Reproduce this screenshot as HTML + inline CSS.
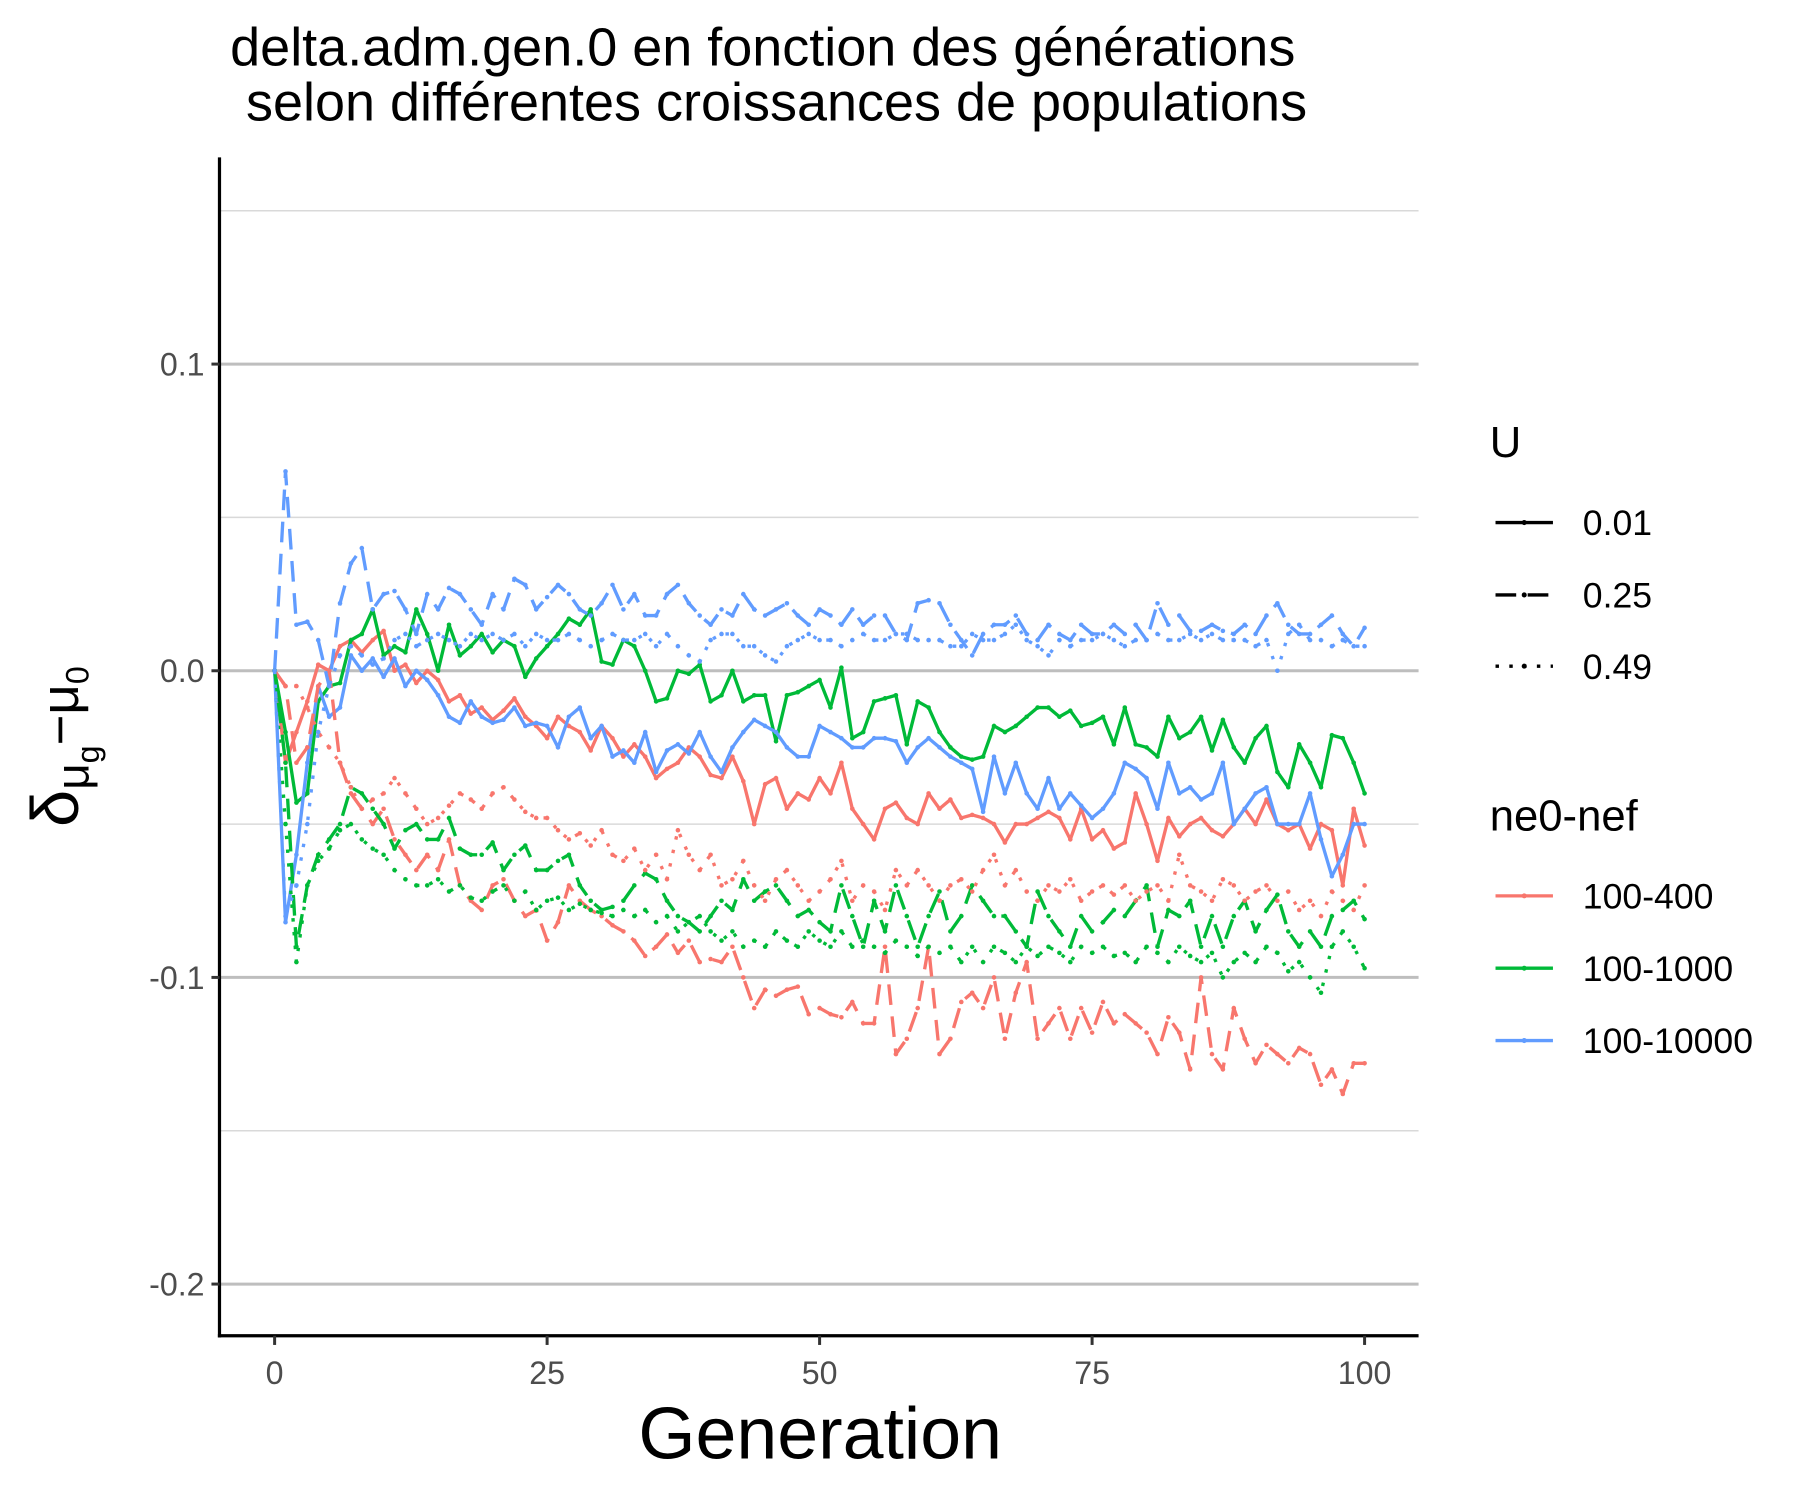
<!DOCTYPE html>
<html><head><meta charset="utf-8"><style>
html,body{margin:0;padding:0;background:#fff;}
svg{display:block;font-family:"Liberation Sans",sans-serif;}
</style></head><body>
<svg id="chart" width="1800" height="1500" viewBox="0 0 1567 1306" xmlns="http://www.w3.org/2000/svg">
<g font-size="47" text-anchor="middle" fill="#000">
<text x="664" y="57">delta.adm.gen.0 en fonction des générations</text>
<text x="676" y="105">selon différentes croissances de populations</text>
</g>
<g id="grid"></g>
<g id="series"></g>
<g id="axes"></g>
<text x="714" y="1270" font-size="64" text-anchor="middle">Generation</text>
<g transform="translate(68,650) rotate(-90)" text-anchor="middle">
<text x="0" y="0" font-size="58">δ<tspan font-size="40" dy="9">μ</tspan><tspan font-size="28" dy="9">g</tspan><tspan font-size="46" dy="-18">−μ</tspan><tspan font-size="28" dy="9">0</tspan></text>
</g>
<g id="legend" font-size="31"></g>
</svg>
<script>
const gens = Array.from({length:101},(_,i)=>i);
const xTicks = [0,25,50,75,100];
const yTicks = [0.1,0.0,-0.1,-0.2];
const yMinor = [0.15,0.05,-0.05,-0.15];
const groupNames = ["100-400","100-1000","100-10000"];
const uNames = ["0.01","0.25","0.49"];
const r1 = [0,-0.03,-0.02,-0.01,0.002,0.0,0.008,0.01,0.006,0.01,0.013,0.0,0.002,-0.004,0.0,-0.003,-0.01,-0.008,-0.014,-0.012,-0.016,-0.013,-0.009,-0.015,-0.018,-0.022,-0.015,-0.018,-0.02,-0.026,-0.018,-0.022,-0.028,-0.024,-0.028,-0.035,-0.032,-0.03,-0.025,-0.028,-0.034,-0.035,-0.028,-0.036,-0.05,-0.037,-0.035,-0.045,-0.04,-0.042,-0.035,-0.04,-0.03,-0.045,-0.05,-0.055,-0.045,-0.043,-0.048,-0.05,-0.04,-0.045,-0.042,-0.048,-0.047,-0.048,-0.05,-0.056,-0.05,-0.05,-0.048,-0.046,-0.048,-0.055,-0.045,-0.055,-0.052,-0.058,-0.056,-0.04,-0.05,-0.062,-0.048,-0.054,-0.05,-0.048,-0.052,-0.054,-0.05,-0.045,-0.05,-0.042,-0.05,-0.052,-0.05,-0.058,-0.05,-0.052,-0.07,-0.045,-0.057];
const g1 = [0,-0.02,-0.043,-0.04,-0.01,-0.005,-0.004,0.01,0.012,0.02,0.005,0.008,0.006,0.02,0.012,0.0,0.015,0.005,0.008,0.012,0.006,0.01,0.008,-0.002,0.004,0.008,0.012,0.017,0.015,0.02,0.003,0.002,0.01,0.008,0.0,-0.01,-0.009,0.0,-0.001,0.002,-0.01,-0.008,0.0,-0.01,-0.008,-0.008,-0.023,-0.008,-0.007,-0.005,-0.003,-0.012,0.001,-0.022,-0.02,-0.01,-0.009,-0.008,-0.024,-0.01,-0.012,-0.02,-0.025,-0.028,-0.029,-0.028,-0.018,-0.02,-0.018,-0.015,-0.012,-0.012,-0.015,-0.013,-0.018,-0.017,-0.015,-0.024,-0.012,-0.024,-0.025,-0.028,-0.015,-0.022,-0.02,-0.015,-0.026,-0.016,-0.025,-0.03,-0.022,-0.018,-0.033,-0.038,-0.024,-0.03,-0.038,-0.021,-0.022,-0.03,-0.04];
const b1 = [0,-0.082,-0.06,-0.03,-0.005,-0.015,-0.012,0.005,0.0,0.004,-0.002,0.004,-0.005,0.0,-0.003,-0.008,-0.015,-0.017,-0.01,-0.015,-0.017,-0.016,-0.012,-0.018,-0.017,-0.018,-0.025,-0.015,-0.012,-0.022,-0.018,-0.028,-0.026,-0.03,-0.02,-0.033,-0.026,-0.024,-0.027,-0.02,-0.028,-0.033,-0.025,-0.02,-0.016,-0.018,-0.02,-0.025,-0.028,-0.028,-0.018,-0.02,-0.022,-0.025,-0.025,-0.022,-0.022,-0.023,-0.03,-0.025,-0.022,-0.025,-0.028,-0.03,-0.032,-0.046,-0.028,-0.04,-0.03,-0.04,-0.045,-0.035,-0.045,-0.04,-0.044,-0.048,-0.045,-0.04,-0.03,-0.032,-0.035,-0.045,-0.03,-0.04,-0.038,-0.042,-0.04,-0.03,-0.05,-0.045,-0.04,-0.038,-0.05,-0.05,-0.05,-0.04,-0.055,-0.067,-0.06,-0.05,-0.05];
const r2 = [0,-0.005,-0.03,-0.025,-0.005,0.0,-0.03,-0.04,-0.045,-0.05,-0.045,-0.055,-0.06,-0.065,-0.06,-0.065,-0.055,-0.07,-0.075,-0.078,-0.07,-0.068,-0.075,-0.08,-0.078,-0.088,-0.082,-0.07,-0.075,-0.078,-0.08,-0.083,-0.085,-0.088,-0.093,-0.09,-0.086,-0.092,-0.088,-0.095,-0.094,-0.095,-0.09,-0.1,-0.11,-0.104,-0.106,-0.104,-0.103,-0.112,-0.11,-0.112,-0.113,-0.108,-0.115,-0.115,-0.09,-0.125,-0.12,-0.11,-0.09,-0.125,-0.12,-0.108,-0.105,-0.11,-0.1,-0.12,-0.105,-0.095,-0.12,-0.115,-0.11,-0.12,-0.11,-0.118,-0.108,-0.115,-0.112,-0.115,-0.118,-0.125,-0.113,-0.118,-0.13,-0.1,-0.125,-0.13,-0.11,-0.12,-0.128,-0.122,-0.125,-0.128,-0.123,-0.125,-0.135,-0.13,-0.138,-0.128,-0.128];
const g2 = [0,-0.03,-0.09,-0.07,-0.06,-0.055,-0.05,-0.038,-0.04,-0.045,-0.05,-0.058,-0.052,-0.05,-0.055,-0.055,-0.048,-0.058,-0.06,-0.06,-0.056,-0.065,-0.06,-0.057,-0.065,-0.065,-0.062,-0.06,-0.07,-0.075,-0.078,-0.077,-0.075,-0.07,-0.066,-0.068,-0.075,-0.08,-0.082,-0.085,-0.08,-0.075,-0.078,-0.068,-0.075,-0.072,-0.07,-0.075,-0.08,-0.078,-0.082,-0.085,-0.07,-0.08,-0.09,-0.075,-0.085,-0.07,-0.08,-0.09,-0.08,-0.072,-0.085,-0.08,-0.07,-0.075,-0.08,-0.08,-0.085,-0.09,-0.072,-0.08,-0.085,-0.09,-0.08,-0.085,-0.082,-0.078,-0.08,-0.075,-0.07,-0.09,-0.078,-0.08,-0.075,-0.09,-0.08,-0.09,-0.08,-0.075,-0.085,-0.078,-0.073,-0.085,-0.09,-0.085,-0.09,-0.08,-0.078,-0.075,-0.081];
const b2 = [0,0.065,0.015,0.016,0.01,-0.005,0.022,0.035,0.04,0.02,0.025,0.026,0.02,0.012,0.025,0.02,0.027,0.025,0.02,0.015,0.025,0.02,0.03,0.028,0.02,0.024,0.028,0.025,0.02,0.018,0.022,0.028,0.02,0.025,0.018,0.018,0.025,0.028,0.022,0.018,0.015,0.02,0.018,0.025,0.02,0.018,0.02,0.022,0.018,0.015,0.02,0.018,0.015,0.02,0.015,0.018,0.018,0.012,0.01,0.022,0.023,0.022,0.015,0.01,0.005,0.012,0.015,0.015,0.018,0.012,0.01,0.015,0.012,0.01,0.015,0.012,0.012,0.015,0.012,0.015,0.01,0.022,0.015,0.018,0.013,0.013,0.015,0.013,0.012,0.015,0.012,0.018,0.022,0.015,0.012,0.012,0.015,0.018,0.012,0.008,0.014];
const r3 = [0,-0.005,-0.005,-0.012,-0.02,-0.025,-0.03,-0.038,-0.045,-0.042,-0.04,-0.035,-0.04,-0.045,-0.05,-0.048,-0.044,-0.04,-0.042,-0.045,-0.04,-0.038,-0.042,-0.046,-0.048,-0.048,-0.052,-0.055,-0.053,-0.057,-0.052,-0.06,-0.062,-0.058,-0.065,-0.06,-0.068,-0.052,-0.06,-0.065,-0.06,-0.07,-0.068,-0.062,-0.07,-0.075,-0.068,-0.065,-0.07,-0.075,-0.072,-0.068,-0.062,-0.075,-0.07,-0.072,-0.078,-0.065,-0.07,-0.065,-0.07,-0.075,-0.07,-0.068,-0.072,-0.065,-0.06,-0.07,-0.065,-0.072,-0.075,-0.07,-0.072,-0.068,-0.075,-0.072,-0.07,-0.073,-0.07,-0.075,-0.072,-0.07,-0.075,-0.06,-0.07,-0.072,-0.075,-0.068,-0.07,-0.075,-0.072,-0.07,-0.075,-0.072,-0.078,-0.075,-0.08,-0.072,-0.075,-0.078,-0.07];
const g3 = [0,-0.05,-0.095,-0.07,-0.062,-0.058,-0.052,-0.05,-0.055,-0.058,-0.06,-0.065,-0.068,-0.07,-0.07,-0.068,-0.072,-0.07,-0.074,-0.075,-0.072,-0.07,-0.075,-0.072,-0.078,-0.075,-0.074,-0.078,-0.076,-0.078,-0.079,-0.08,-0.078,-0.08,-0.078,-0.082,-0.08,-0.085,-0.082,-0.08,-0.085,-0.088,-0.085,-0.09,-0.088,-0.09,-0.085,-0.088,-0.09,-0.085,-0.088,-0.09,-0.085,-0.09,-0.088,-0.09,-0.092,-0.088,-0.09,-0.093,-0.09,-0.092,-0.09,-0.095,-0.09,-0.095,-0.09,-0.092,-0.095,-0.09,-0.093,-0.09,-0.092,-0.095,-0.09,-0.092,-0.09,-0.093,-0.092,-0.095,-0.09,-0.092,-0.095,-0.09,-0.093,-0.095,-0.092,-0.1,-0.095,-0.092,-0.095,-0.09,-0.092,-0.098,-0.095,-0.1,-0.105,-0.09,-0.085,-0.09,-0.097];
const b3 = [0,-0.08,-0.07,-0.05,-0.02,-0.005,0.005,0.008,0.005,0.002,0.004,0.01,0.012,0.008,0.01,0.012,0.01,0.008,0.012,0.01,0.012,0.01,0.012,0.008,0.012,0.01,0.01,0.012,0.01,0.008,0.01,0.012,0.01,0.01,0.012,0.008,0.012,0.008,0.005,0.003,0.01,0.012,0.012,0.008,0.008,0.005,0.003,0.008,0.01,0.012,0.01,0.01,0.008,0.01,0.012,0.01,0.01,0.012,0.012,0.01,0.01,0.01,0.008,0.008,0.012,0.01,0.01,0.012,0.015,0.01,0.008,0.005,0.01,0.008,0.01,0.01,0.012,0.01,0.008,0.01,0.01,0.012,0.01,0.01,0.012,0.01,0.012,0.01,0.01,0.01,0.008,0.01,0.0,0.012,0.015,0.01,0.01,0.008,0.01,0.008,0.008];

const NS="http://www.w3.org/2000/svg";
const X0=191, X1=1235, Y0=137, Y1=1163;
const xs = v => 239 + (v-0)*(1188-239)/100;
const ys = v => 584 - v*2670;
const colors = ["#F8766D","#00BA38","#619CFF"];
const dashes = [null,"18 10","3 9"];
function mk(tag, attrs, parent){const e=document.createElementNS(NS,tag);for(const k in attrs)e.setAttribute(k,attrs[k]);parent.appendChild(e);return e;}
const grid=document.getElementById('grid');
yMinor.forEach(v=>{
  const l=mk('line',{x1:X0,x2:X1,y1:ys(v),y2:ys(v),stroke:'#d9d9d9','stroke-width':1.3},grid);
  
  
});
yTicks.forEach(v=>{
  const l=mk('line',{x1:X0,x2:X1,y1:ys(v),y2:ys(v),stroke:'#bebebe','stroke-width':2.6},grid);
  
  
});
const ser=document.getElementById('series');
const allSeries=[[r1,g1,b1],[r2,g2,b2],[r3,g3,b3]];
allSeries.forEach((grp,ui)=>{
  grp.forEach((vals,ci)=>{
    const d=vals.map((v,i)=>(i?'L':'M')+xs(gens[i]).toFixed(2)+','+ys(v).toFixed(2)).join('');
    const p=mk('path',{d:d,fill:'none',stroke:colors[ci],'stroke-width':2.9,'stroke-linejoin':'round'},ser);
    if(dashes[ui])p.setAttribute('stroke-dasharray',dashes[ui]);
    
    
    vals.forEach((v,i)=>{
      const c=mk('circle',{cx:xs(gens[i]),cy:ys(v),r:2,fill:colors[ci]},ser);
      
      
    });
  });
});
const ax=document.getElementById('axes');
const yl=mk('line',{x1:X0,x2:X0,y1:Y0,y2:Y1+1.5,stroke:'#000','stroke-width':2.8},ax);


const xl=mk('line',{x1:X0-1.4,x2:X1,y1:Y1,y2:Y1,stroke:'#000','stroke-width':2.8},ax);


yTicks.forEach(v=>{
  const t=mk('line',{x1:X0-7,x2:X0,y1:ys(v),y2:ys(v),stroke:'#333','stroke-width':2.6},ax);
  
  
  const tx=mk('text',{x:X0-13,y:ys(v)+10,'text-anchor':'end','font-size':28,fill:'#4d4d4d'},ax);
  tx.textContent=v.toFixed(1);
  
  
});
xTicks.forEach(v=>{
  const t=mk('line',{x1:xs(v),x2:xs(v),y1:Y1,y2:Y1+8,stroke:'#333','stroke-width':2.6},ax);
  
  
  const tx=mk('text',{x:xs(v),y:Y1+42,'text-anchor':'middle','font-size':28,fill:'#4d4d4d'},ax);
  tx.textContent=String(v);
  
  
});
const lg=document.getElementById('legend');
const t1=mk('text',{x:1297,y:398,'font-size':38},lg);t1.textContent='U';


[455,518,580].forEach((y,i)=>{
  const l=mk('line',{x1:1302,x2:1352,y1:y,y2:y,stroke:'#000','stroke-width':2.9},lg);
  if(dashes[i])l.setAttribute('stroke-dasharray',dashes[i]);
  
  
  const c=mk('circle',{cx:1327,cy:y,r:2.2,fill:'#000'},lg);
  
  
  const tx=mk('text',{x:1378,y:y+11},lg);tx.textContent=uNames[i];
  
  
});
const t2=mk('text',{x:1297,y:723,'font-size':38},lg);t2.textContent='ne0-nef';


[780,843,906].forEach((y,i)=>{
  const l=mk('line',{x1:1302,x2:1352,y1:y,y2:y,stroke:colors[i],'stroke-width':2.9},lg);
  
  
  const c=mk('circle',{cx:1327,cy:y,r:2.2,fill:colors[i]},lg);
  
  
  const tx=mk('text',{x:1378,y:y+11},lg);tx.textContent=groupNames[i];
  
  
});
</script>
</body></html>
